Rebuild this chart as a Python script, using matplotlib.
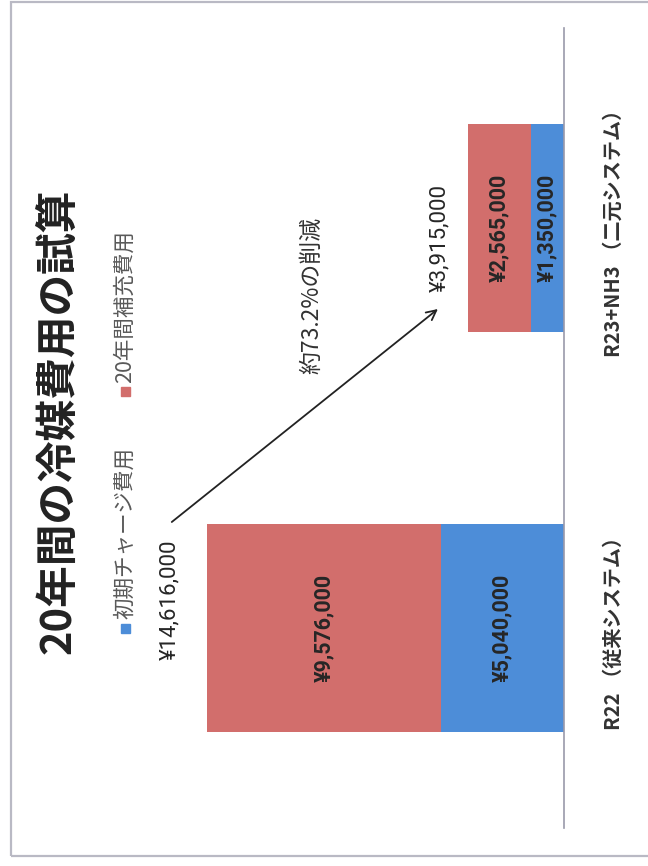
import matplotlib
matplotlib.use("Agg")
import matplotlib.pyplot as plt
from matplotlib.patches import Rectangle

plt.rcParams['font.family'] = ['Noto Sans CJK JP', 'DejaVu Sans']

# 冷媒費用 (円)
systems = ["R22 （従来システム）", "R23+NH3 （二元システム）"]
initial_cost = [5040000, 1350000]     # 初期チャージ費用
refill_cost = [9576000, 2565000]      # 20年間補充費用
series_names = ["初期チャージ費用", "20年間補充費用"]
reduction_text = "約73.2%の削減"
title = "20年間の冷媒費用の試算"

blue = "#4D8DD8"
red = "#D26E6C"

totals = [a + b for a, b in zip(initial_cost, refill_cost)]
ypos = list(range(len(systems)))

fig = plt.figure(figsize=(6.48, 8.66), dpi=100)

# 外枠
fig.patches.append(Rectangle((11 / 648, 10 / 866), 1.0, 854 / 866, transform=fig.transFigure,
                             fill=False, edgecolor="#b9b9c4", lw=1.6))

ax = fig.add_axes([173 / 648, 38 / 866, 391 / 648, 800 / 866])
ax.barh(ypos, initial_cost, height=0.52, color=blue, edgecolor="none")
ax.barh(ypos, refill_cost, left=initial_cost, height=0.52, color=red, edgecolor="none")

ax.set_xlim(16000000, 0)
ax.set_ylim(-0.5, 1.5)

for s in ["top", "bottom", "left"]:
    ax.spines[s].set_visible(False)
ax.spines["right"].set_color("#9a9aaa")
ax.spines["right"].set_linewidth(1.2)
ax.set_xticks([])
ax.yaxis.tick_right()
ax.set_yticks(ypos)
ax.set_yticklabels(systems, rotation=90, va="center", ha="left",
                   fontsize=14.5, fontweight="bold", color="#333333")
ax.tick_params(axis="y", length=0, pad=28)

# 各区分の金額
for i in ypos:
    ax.text(initial_cost[i] / 2, i, f"¥{initial_cost[i]:,}", rotation=90,
            ha="center", va="center", fontsize=15.5, fontweight="bold",
            family="Roboto", color="#262626")
    ax.text(initial_cost[i] + refill_cost[i] / 2, i, f"¥{refill_cost[i]:,}", rotation=90,
            ha="center", va="center", fontsize=15.5, fontweight="bold",
            family="Roboto", color="#262626")

# 合計
total_x = [16130000, 5080000]
total_y = [0.07, 0.975]
for i in ypos:
    ax.text(total_x[i], total_y[i], f"¥{totals[i]:,}", rotation=90,
            ha="center", va="center", fontsize=16, family="Roboto",
            color="#262626", clip_on=False)

ax.annotate("", xy=(5160000, 0.7975), xytext=(16050000, 0.265),
            arrowprops=dict(arrowstyle="->,head_length=0.7,head_width=0.35",
                            color="#222222", lw=1.3, shrinkA=0, shrinkB=0),
            annotation_clip=False)
ax.text(10300000, 0.8325, reduction_text, rotation=90, ha="center", va="center",
        fontsize=16.5, color="#333333")

fig.text(58 / 648, 1 - 421 / 866, title, rotation=90, ha="center", va="center",
         fontsize=30, fontweight="bold", color="#222222")

# 凡例
for name, color, y0 in [(series_names[0], blue, 628), (series_names[1], red, 392)]:
    fig.patches.append(Rectangle(((125 - 4.5) / 648, 1 - (y0 + 4.5) / 866), 9 / 648, 9 / 866,
                                 transform=fig.transFigure, color=color))
    fig.text(125 / 648, 1 - (y0 - 9) / 866, name, rotation=90, ha="center", va="bottom",
             fontsize=15.5, color="#595959")

fig.savefig("out.png", dpi=100)
